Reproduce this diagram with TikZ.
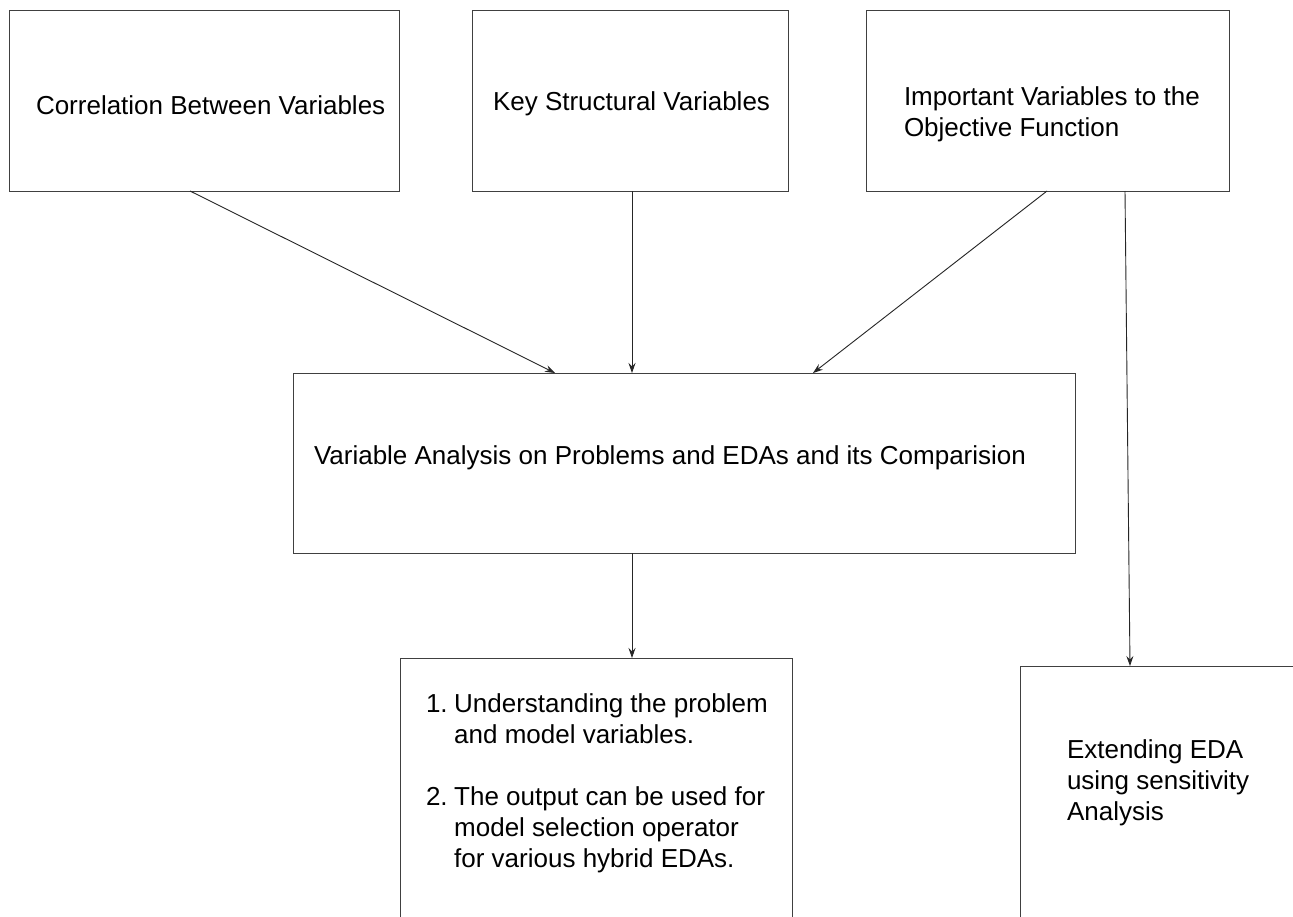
\documentclass[tikz,border=0pt]{standalone}
\usepackage{fontspec}
\setmainfont{Liberation Sans}
\usetikzlibrary{arrows.meta}
\begin{document}
\begin{tikzpicture}[x=1pt,y=-1pt,
  boxnode/.style={draw=black!75,line width=0.9pt,rectangle,inner sep=0pt,outer sep=0pt,anchor=north west},
  openbox/.style={rectangle,inner sep=0pt,outer sep=0pt,anchor=north west},
  edge/.style={draw=black!75,line width=0.9pt},
  txt/.style={inner sep=0pt,outer sep=0pt,anchor=base west,font=\fontsize{26pt}{31pt}\selectfont},
  arr/.style={black!85,line width=0.9pt,-{Stealth[length=10pt,width=7pt,inset=3.5pt]}}]
\useasboundingbox (0,0) rectangle (1293,916);
\clip (0,0) rectangle (1293,916);
\fill[white] (0,0) rectangle (1293,916);
% boxes
\node[boxnode,minimum width=390pt,minimum height=181pt] (b1) at (9,10) {};
\node[boxnode,minimum width=316pt,minimum height=181pt] (b2) at (472,10) {};
\node[boxnode,minimum width=363pt,minimum height=181pt] (b3) at (866,10) {};
\node[boxnode,minimum width=782pt,minimum height=180pt] (bm) at (293,373) {};
\node[openbox,minimum width=392pt,minimum height=300pt] (b4) at (400,658) {};
\node[openbox,minimum width=300pt,minimum height=300pt] (b5) at (1020,666) {};
\draw[edge] (b4.south west) -- (b4.north west) -- (b4.north east) -- (b4.south east);
\draw[edge] (b5.south west) -- (b5.north west) -- (b5.north east);
% texts
\node[txt] (t1) at (36,114) {Correlation Between Variables};
\node[txt] (t2) at (493,110) {Key Structural Variables};
\node[txt] (t3) at (904,105) {\begin{tabular}[t]{@{}l@{}}Important Variables to the\\Objective Function\end{tabular}};
\node[txt] (tm) at (314,464) {Variable Analysis on Problems and EDAs and its Comparision};
\node[txt] (t4) at (426,712) {\begin{tabular}[t]{@{}l@{\hspace{6.5pt}}l@{}}1.&Understanding the problem\\&and model variables.\\&\\2.&The output can be used for\\&model selection operator\\&for various hybrid EDAs.\end{tabular}};
\node[txt] (t5) at (1067,758) {\begin{tabular}[t]{@{}l@{}}Extending EDA\\using sensitivity\\Analysis\end{tabular}};
% connectors
\draw[arr] ([xshift=181pt]b1.south west) -- ([xshift=262pt]bm.north west);
\draw[arr] ([xshift=160pt]b2.south west) -- ([xshift=339pt]bm.north west);
\draw[arr] ([xshift=181pt]b3.south west) -- ([xshift=520pt]bm.north west);
\draw[arr] ([xshift=259pt]b3.south west) -- ([xshift=110pt]b5.north west);
\draw[arr] ([xshift=339pt]bm.south west) -- ([xshift=232pt]b4.north west);
\end{tikzpicture}
\end{document}
